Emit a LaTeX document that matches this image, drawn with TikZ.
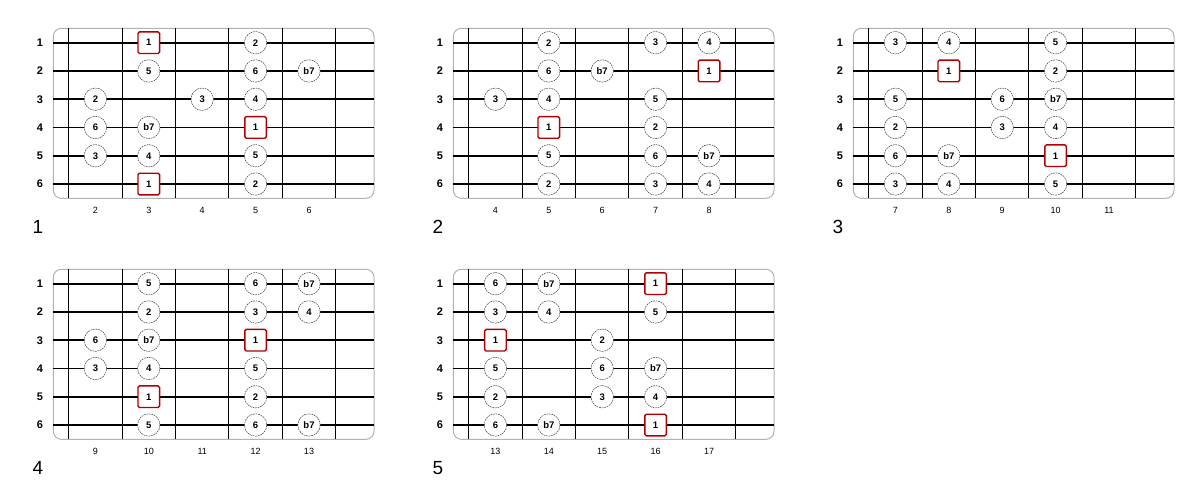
\documentclass[tikz,border=0pt]{standalone}
\usepackage{fontspec}
\setmainfont{Liberation Sans}
\tikzset{
	board/.style={draw=black!30, line width=1pt, rounded corners=8pt},
	guitarstring/.style={line width=1.6pt},
	fretwire/.style={line width=1pt},
	degree/.style={circle, draw=black!75, dash pattern=on 1.8pt off 0.8pt, line width=0.5pt, fill=white, minimum size=22.4pt, inner sep=0pt, font=\bfseries\fontsize{9.5}{10}\selectfont},
	tonic/.style={rectangle, draw=red!70!black, line width=1.4pt, rounded corners=1.5pt, fill=white, minimum size=21.6pt, inner sep=0pt, font=\bfseries\fontsize{9.5}{10}\selectfont},
	stringnum/.style={font=\bfseries\fontsize{11}{12}\selectfont},
	fretnum/.style={font=\fontsize{9}{10}\selectfont},
	boxnum/.style={font=\fontsize{19}{20}\selectfont}
}
\newcommand{\fretboard}[6]{%
	\begin{scope}[shift={(#1,#2)}]
		\draw[board] (53.3,28.3) rectangle (374,198.3);
		\foreach \s in {1,...,6} {
			\draw[guitarstring] (53.3,{42.7+28.26*(\s-1)}) -- (374,{42.7+28.26*(\s-1)});
			\node[stringnum] (#4-s\s) at (40,{42.7+28.26*(\s-1)}) {\s};
		}
		\foreach \f in {0,...,5}
			\draw[fretwire] ({68.7+53.4*\f},28.3) -- ({68.7+53.4*\f},198.3);
		\foreach \k in {1,...,5} {
			\pgfmathtruncatemacro{\fr}{#3+\k-1}
			\node[fretnum] (#4-f\k) at ({95.4+53.4*(\k-1)},210) {\fr};
		}
		\node[boxnum] (#4-name) at (38,227) {#4};
		\foreach \s/\c/\t in {#5}
			\node[degree] (#4-\s-\c) at ({95.4+53.4*(\c-1)},{42.7+28.26*(\s-1)}) {\t};
		\foreach \s/\c in {#6}
			\node[tonic] (#4-\s-\c) at ({95.4+53.4*(\c-1)},{42.7+28.26*(\s-1)}) {1};
	\end{scope}}

\begin{document}
\begin{tikzpicture}[x=1pt, y=-1pt]
	\useasboundingbox (0,0) rectangle (1200,482);
	\fretboard{0}{0}{2}{1}{1/4/2, 2/2/5, 2/4/6, 2/5/b7, 3/1/2, 3/3/3, 3/4/4, 4/1/6, 4/2/b7, 5/1/3, 5/2/4, 5/4/5, 6/4/2}{1/2, 4/4, 6/2}
	\fretboard{400}{0}{4}{2}{1/2/2, 1/4/3, 1/5/4, 2/2/6, 2/3/b7, 3/1/3, 3/2/4, 3/4/5, 4/4/2, 5/2/5, 5/4/6, 5/5/b7, 6/2/2, 6/4/3, 6/5/4}{2/5, 4/2}
	\fretboard{800}{0}{7}{3}{1/1/3, 1/2/4, 1/4/5, 2/4/2, 3/1/5, 3/3/6, 3/4/b7, 4/1/2, 4/3/3, 4/4/4, 5/1/6, 5/2/b7, 6/1/3, 6/2/4, 6/4/5}{2/2, 5/4}
	\fretboard{0}{241}{9}{4}{1/2/5, 1/4/6, 1/5/b7, 2/2/2, 2/4/3, 2/5/4, 3/1/6, 3/2/b7, 4/1/3, 4/2/4, 4/4/5, 5/4/2, 6/2/5, 6/4/6, 6/5/b7}{3/4, 5/2}
	\fretboard{400}{241}{13}{5}{1/1/6, 1/2/b7, 2/1/3, 2/2/4, 2/4/5, 3/3/2, 4/1/5, 4/3/6, 4/4/b7, 5/1/2, 5/3/3, 5/4/4, 6/1/6, 6/2/b7}{1/4, 3/1, 6/4}
\end{tikzpicture}
\end{document}
